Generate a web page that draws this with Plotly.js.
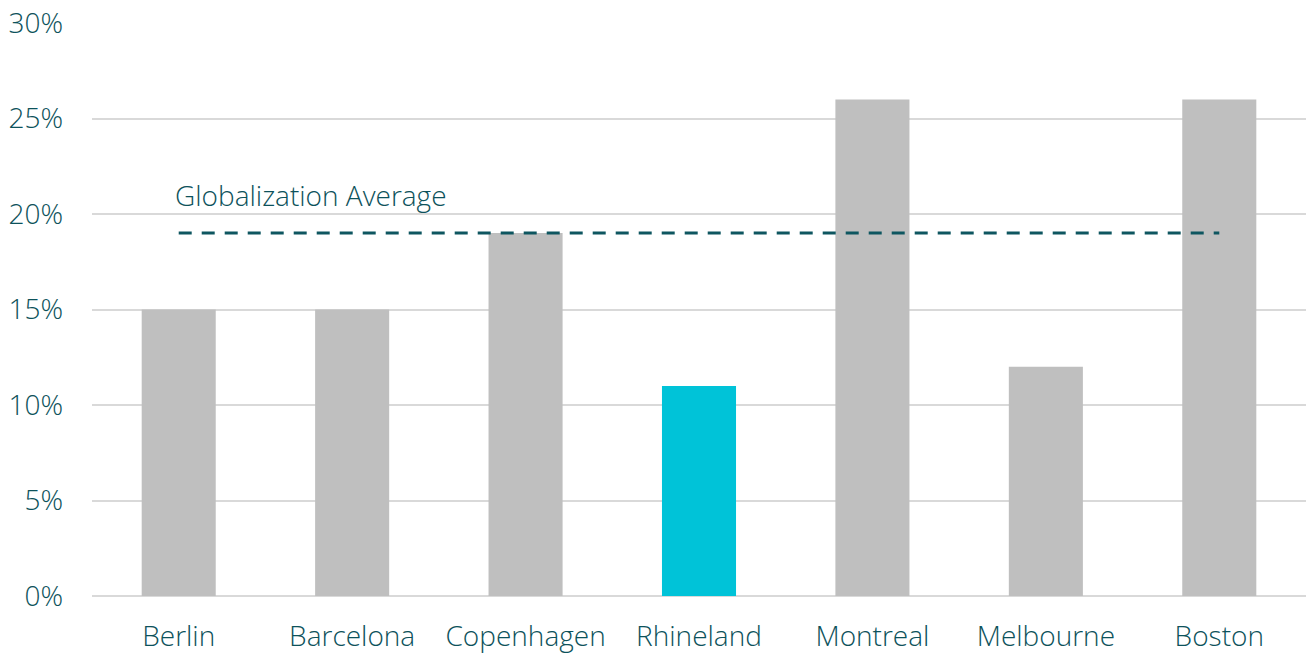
<!DOCTYPE html>
<html>
<head>
<meta charset="utf-8">
<script src="https://cdn.plot.ly/plotly-3.0.1.min.js"></script>
<style>html,body{margin:0;padding:0;background:#fff;}#chart{width:1311px;height:655px;}</style>
</head>
<body>
<div id="chart"></div>
<script>
const categories = ["Berlin", "Barcelona", "Copenhagen", "Rhineland", "Montreal", "Melbourne", "Boston"];
const values = [15, 15, 19, 11, 26, 12, 26];
const highlight = "Rhineland";
const averageValue = 19;
const averageLabel = "Globalization Average";
const yTickVals = [0, 5, 10, 15, 20, 25, 30];
const yTickText = ["0%", "5%", "10%", "15%", "20%", "25%", "30%"];

const textColor = "#0d525b";
const barColors = categories.map(c => c === highlight ? "#00c3d8" : "#bfbfbf");
const font = "'Open Sans', sans-serif";

const traces = [
  {
    type: "bar",
    x: categories,
    y: values,
    marker: {color: barColors},
    hoverinfo: "x+y"
  },
  {
    type: "scatter",
    mode: "lines",
    x: [categories[0], categories[categories.length - 1]],
    y: [averageValue, averageValue],
    line: {color: "#0e5660", width: 3, dash: "13px,10px"},
    hoverinfo: "skip"
  }
];

const layout = {
  width: 1311,
  height: 655,
  margin: {l: 92, r: 5, t: 23, b: 59},
  paper_bgcolor: "#fff",
  plot_bgcolor: "#fff",
  showlegend: false,
  bargap: 0.573,
  font: {family: font, color: textColor, size: 28, weight: 300},
  xaxis: {
    type: "category",
    showgrid: false,
    zeroline: false,
    showline: false,
    ticks: "",
    ticklabelstandoff: 21,
    tickfont: {family: font, size: 28, color: textColor, weight: 300}
  },
  yaxis: {
    range: [0, 30],
    tickvals: yTickVals,
    ticktext: yTickText,
    showgrid: true,
    gridcolor: "#d9d9d9",
    gridwidth: 2,
    zeroline: true,
    zerolinecolor: "#d9d9d9",
    zerolinewidth: 2,
    showline: false,
    ticks: "",
    ticklabelstandoff: 28,
    tickfont: {family: font, size: 28, color: textColor, weight: 300}
  },
  annotations: [{
    x: categories[0],
    y: averageValue,
    xref: "x",
    yref: "y",
    text: averageLabel,
    showarrow: false,
    xanchor: "left",
    yanchor: "bottom",
    xshift: -6,
    yshift: 17,
    font: {family: font, size: 28, color: textColor, weight: 300}
  }]
};

Plotly.newPlot("chart", traces, layout, {displayModeBar: false, staticPlot: true});
</script>
</body>
</html>
